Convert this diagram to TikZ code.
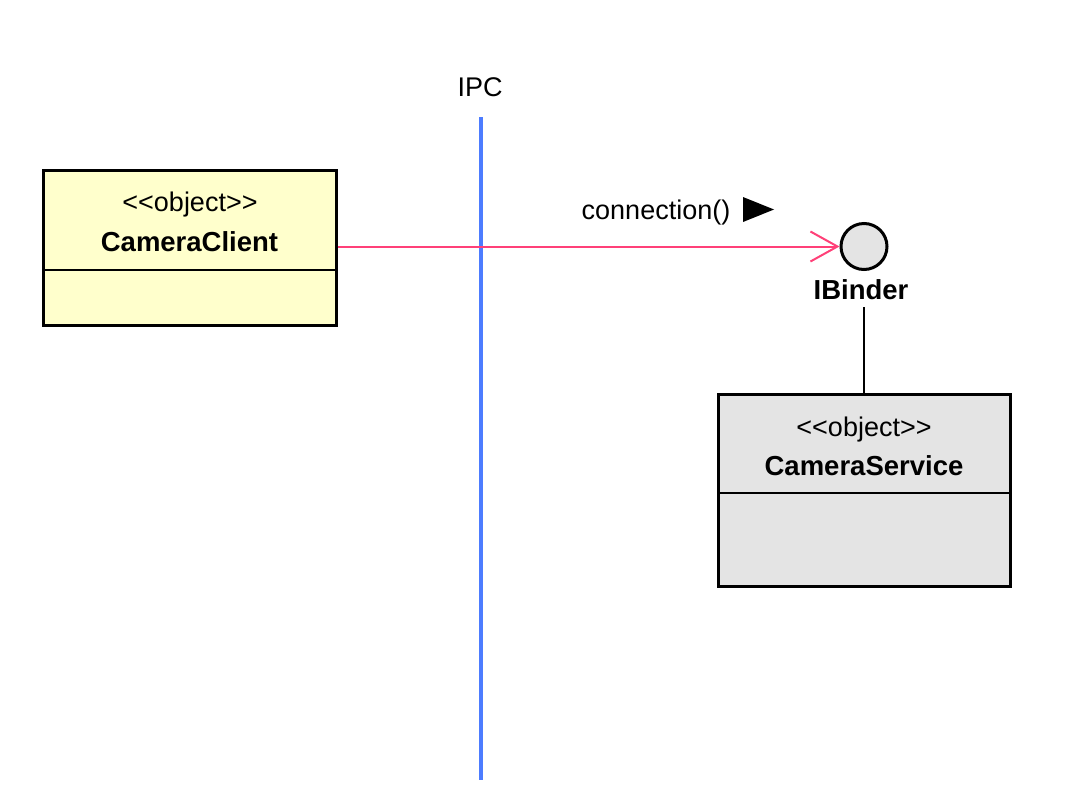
\documentclass[tikz,border=0pt]{standalone}
\usepackage{fontspec}
\setmainfont{Liberation Sans}
\usetikzlibrary{arrows.meta}
\definecolor{clientfill}{RGB}{255,255,204}
\definecolor{servfill}{RGB}{228,228,228}
\definecolor{linkpink}{RGB}{255,64,120}
\definecolor{ipcblue}{RGB}{77,124,255}
\tikzset{
  objbox/.style={draw=black, line width=3pt, rectangle, inner sep=0pt},
  stereo/.style={font=\fontsize{27}{30}\selectfont, inner sep=0pt, anchor=base},
  objname/.style={font=\fontsize{27.5}{30}\selectfont\bfseries, inner sep=0pt, anchor=base},
  plain/.style={font=\fontsize{27}{30}\selectfont, inner sep=0pt, anchor=base}
}
\begin{document}
\begin{tikzpicture}[x=1pt,y=-1pt]
\useasboundingbox (0,0) rectangle (1070,798);
% IPC line
\node[plain] (ipclabel) at (480,96) {IPC};
\coordinate (ipctop) at (481,117);
\coordinate (ipcbot) at (481,780);
% CameraClient
\node[objbox, fill=clientfill, minimum width=293pt, minimum height=155pt] (cc) at (189.5,247.5) {};
\draw[line width=1.5pt] (43,270) -- (336,270);
\node[stereo] (ccst) at (190,211) {<{}<object>{}>};
\node[objname] (ccname) at (189.5,251) {CameraClient};
% IPC drawn over
\draw[ipcblue, line width=4pt] (ipctop) -- (ipcbot);
% IBinder
\node[draw=black, line width=3pt, circle, fill=servfill, minimum size=46pt, inner sep=0pt] (ib) at (864,246.5) {};
\node[objname] (ibname) at (861,299) {IBinder};
% CameraService
\node[objbox, fill=servfill, minimum width=292pt, minimum height=192pt] (cs) at (864,490) {};
\draw[line width=1.5pt] (718,493) -- (1010,493);
\node[stereo] (csst) at (864,436) {<{}<object>{}>};
\node[objname] (csname) at (864,475) {CameraService};
% connectors
\draw[linkpink, line width=2pt, -{Straight Barb[length=27pt,width=30pt,line width=2pt]}] (cc.east |- ib.west) -- (ib.west);
\draw[black, line width=1.5pt] (864,307) -- (cs.north);
% label
\node[plain] (conn) at (656,219) {connection()};
\fill[black] (743,197) -- (743,222) -- (774,209.5) -- cycle;
\end{tikzpicture}
\end{document}
